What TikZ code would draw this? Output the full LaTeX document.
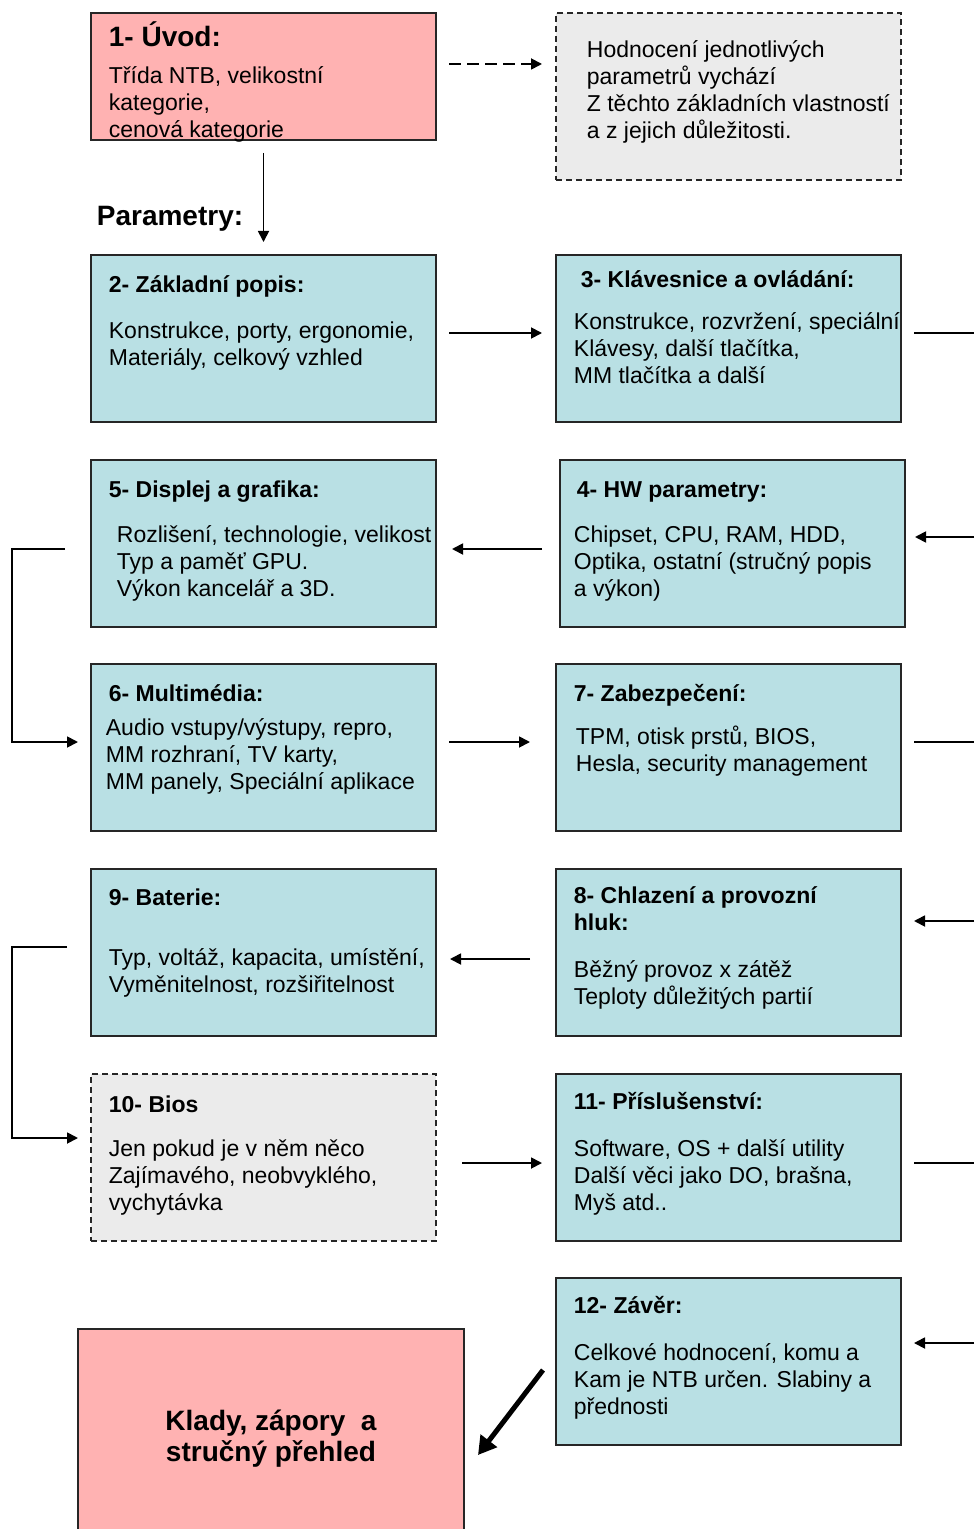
\documentclass[tikz,border=0pt]{standalone}
\usepackage{fontspec}
\setmainfont{Liberation Sans}
\usetikzlibrary{arrows.meta,calc}
\definecolor{pinkbox}{RGB}{255,178,178}
\definecolor{tealbox}{RGB}{185,224,228}
\definecolor{graybox}{RGB}{235,235,235}

\begin{document}
\begin{tikzpicture}[
	x=0.5pt,y=-0.5pt,
	font=\fontsize{11.5}{13.5}\selectfont,
	line width=0.9pt,
	bx/.style={draw=black!85,line width=1pt,inner sep=0pt,outer sep=0pt,anchor=north west,
		minimum width=172.5pt,minimum height=83.5pt},
	pk/.style={bx,fill=pinkbox},
	tl/.style={bx,fill=tealbox},
	gr/.style={bx,fill=graybox,dash pattern=on 3pt off 2pt},
	tb/.style={anchor=north west,inner sep=0pt,align=left,execute at begin node=\strut},
	tx/.style={tb,yshift=-1.5pt},
	hd/.style={tb,font=\bfseries\fontsize{11.5}{13.5}\selectfont},
	hb/.style={anchor=base west,inner sep=0pt,font=\bfseries\fontsize{14}{16}\selectfont},
	ar/.style={-{Triangle[length=5.5pt,width=5.5pt]}},
	]
\useasboundingbox (0,0) rectangle (974,1529);
\clip (0,0) rectangle (974,1529);

\node [pk,minimum height=63.5pt] (b1) at (91,13) {};
\node [gr] (r1) at (556,13) {};
\node [tl] (b2) at (91,255) {};
\node [tl] (b3) at (556,255) {};
\node [tl] (b4) at (560,460) {};
\node [tl] (b5) at (91,460) {};
\node [tl] (b6) at (91,664) {};
\node [tl] (b7) at (556,664) {};
\node [tl] (b8) at (556,869) {};
\node [tl] (b9) at (91,869) {};
\node [gr] (b10) at (91,1074) {};
\node [tl] (b11) at (556,1074) {};
\node [tl] (b12) at (556,1278) {};
\node [pk,minimum width=193pt,minimum height=110pt,align=center,
	font=\bfseries\fontsize{14}{15.5}\selectfont] (fin) at (78,1329) {Klady, zápory \ a\\stručný přehled};

\node [hb] (t1) at (108,47) {1- Úvod:};
\node [tx] (x1) at (108,63) {Třída NTB, velikostní\\kategorie,\\cenová kategorie};
\node [tx] (xr) at (586,37) {Hodnocení jednotlivých\\parametrů vychází\\Z těchto základních vlastností\\a z jejich důležitosti.};
\node [hb] (par) at (96,226) {Parametry:};
\node [hd] (t2) at (108,273) {2- Základní popis:};
\node [tx] (x2) at (108,318) {Konstrukce, porty, ergonomie,\\Materiály, celkový vzhled};
\node [hd] (t3) at (580,268) {3- Klávesnice a ovládání:};
\node [tx] (x3) at (573,309) {Konstrukce, rozvržení, speciální\\Klávesy, další tlačítka,\\MM tlačítka a další};
\node [hd] (t4) at (576,478) {4- HW parametry:};
\node [tx] (x4) at (573,522) {Chipset, CPU, RAM, HDD,\\Optika, ostatní (stručný popis\\a výkon)};
\node [hd] (t5) at (108,478) {5- Displej a grafika:};
\node [tx] (x5) at (116,522) {Rozlišení, technologie, velikost\\Typ a paměť GPU.\\Výkon kancelář a 3D.};
\node [hd] (t6) at (108,682) {6- Multimédia:};
\node [tx] (x6) at (105,715) {Audio vstupy/výstupy, repro,\\MM rozhraní, TV karty,\\MM panely, Speciální aplikace};
\node [hd] (t7) at (573,682) {7- Zabezpečení:};
\node [tx] (x7) at (575,722) {TPM, otisk prstů, BIOS,\\Hesla, security management};
\node [hd] (t8) at (573,886) {8- Chlazení a provozní\\hluk:};
\node [tx] (x8) at (573,957) {Běžný provoz x zátěž\\Teploty důležitých partií};
\node [hd] (t9) at (108,886) {9- Baterie:};
\node [tx] (x9) at (108,945) {Typ, voltáž, kapacita, umístění,\\Vyměnitelnost, rozšiřitelnost};
\node [hd] (t10) at (108,1093) {10- Bios};
\node [tx] (x10) at (108,1136) {Jen pokud je v něm něco\\Zajímavého, neobvyklého,\\vychytávka};
\node [hd] (t11) at (573,1090) {11- Příslušenství:};
\node [tx] (x11) at (573,1136) {Software, OS + další utility\\Další věci jako DO, brašna,\\Myš atd..};
\node [hd] (t12) at (573,1294) {12- Závěr:};
\node [tx] (x12) at (573,1340) {Celkové hodnocení, komu a\\Kam je NTB určen. Slabiny a\\přednosti};

\coordinate (e3) at (974,333);
\coordinate (e4) at (974,537);
\coordinate (e7) at (974,742);
\coordinate (e8) at (974,921);
\coordinate (e11) at (974,1163);
\coordinate (e12) at (974,1343);

\draw [ar,dash pattern=on 6pt off 3pt] ($(b1.north east)+(13,51)$) -- ($(r1.north west)+(-14,51)$);
\draw [ar] ($(b1.south)+(0,13)$) -- ($(b2.north)+(0,-13)$);
\draw [ar] ($(b2.north east)+(13,78)$) -- ($(b3.north west)+(-14,78)$);
\draw ($(b3.north east)+(13,78)$) -- (e3);
\draw [ar] (e4) -- ($(b4.north east)+(10,77)$);
\draw [ar] ($(b4.north west)+(-18,89)$) -- ($(b5.north east)+(16,89)$);
\draw [ar] ($(b5.north west)+(-26,89)$) -- ++(-53,0) |- ($(b6.north west)+(-13,78)$);
\draw [ar] ($(b6.north east)+(13,78)$) -- ($(b7.north west)+(-26,78)$);
\draw ($(b7.north east)+(13,78)$) -- (e7);
\draw [ar] (e8) -- ($(b8.north east)+(13,52)$);
\draw [ar] ($(b8.north west)+(-26,90)$) -- ($(b9.north east)+(14,90)$);
\draw [ar] ($(b9.north west)+(-24,78)$) -- ++(-55,0) |- ($(b10.north west)+(-13,64)$);
\draw [ar] ($(b10.north east)+(26,89)$) -- ($(b11.north west)+(-14,89)$);
\draw ($(b11.north east)+(13,89)$) -- (e11);
\draw [ar] (e12) -- ($(b12.north east)+(13,65)$);
\draw [line width=2.5pt,-{Triangle[length=9pt,width=10pt]}] ($(b12.north west)+(-13,92)$) -- ($(fin.north east)+(14,126)$);
\end{tikzpicture}
\end{document}
